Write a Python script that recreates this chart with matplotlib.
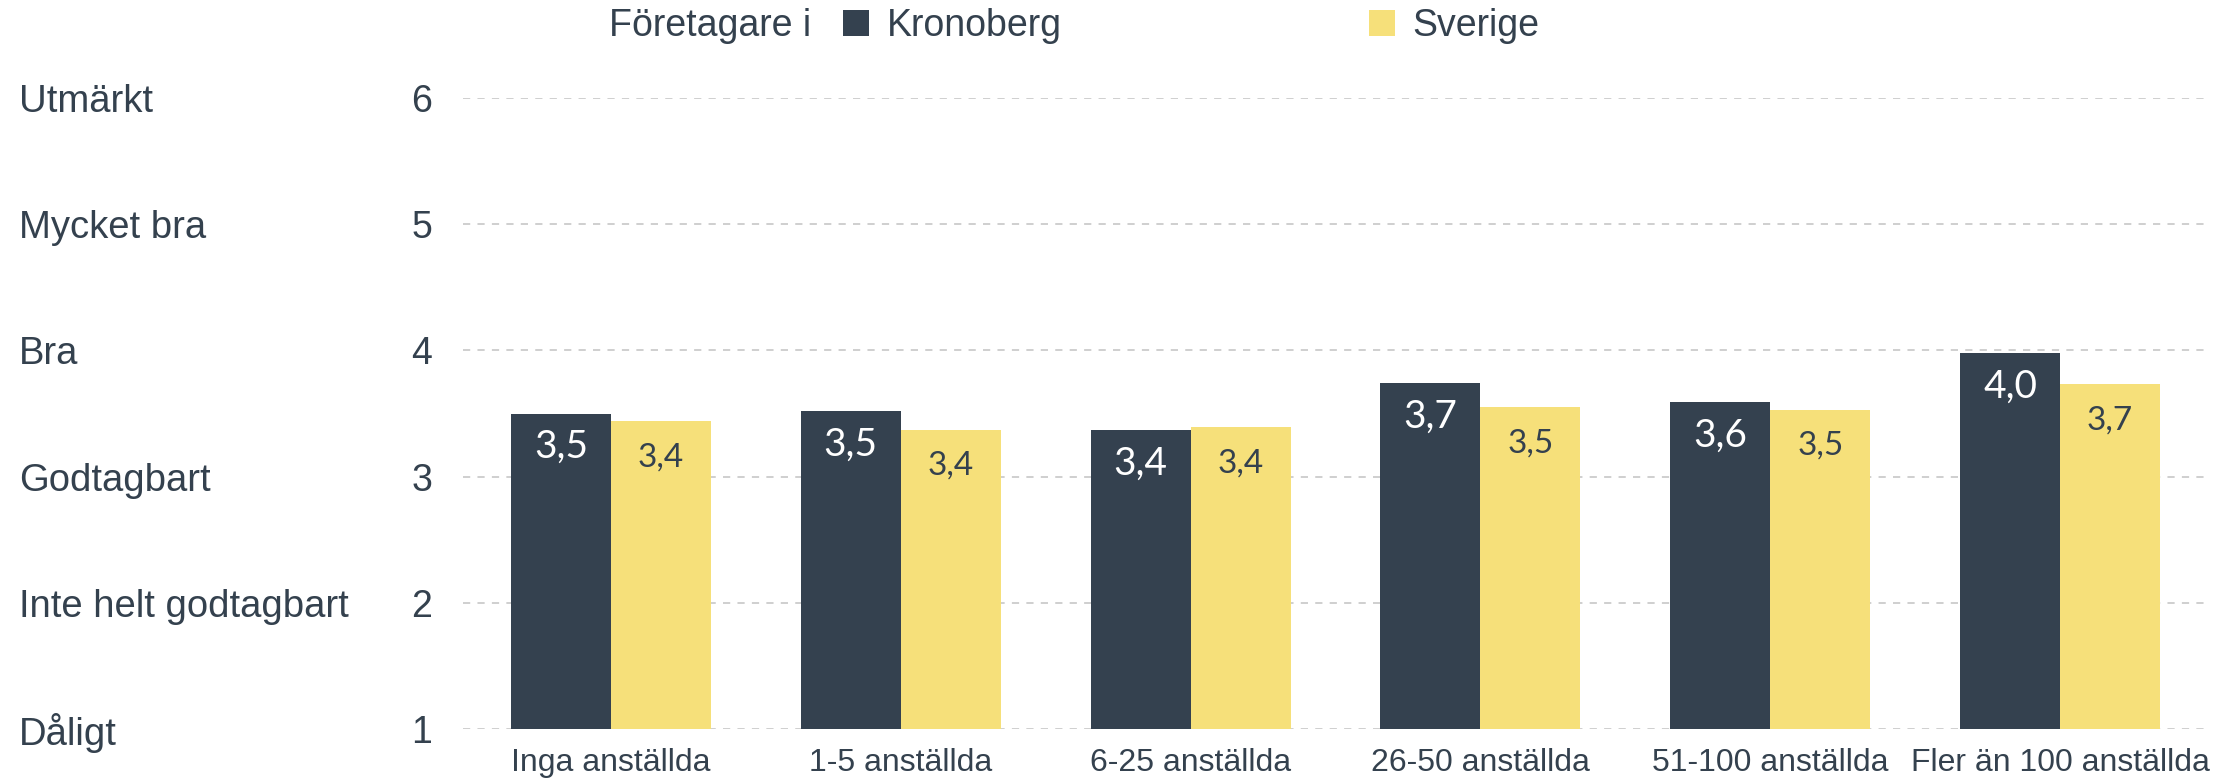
import numpy as np
import matplotlib
matplotlib.use("Agg")
import matplotlib.pyplot as plt

# data
kategorier = ["Inga anställda", "1-5 anställda", "6-25 anställda",
              "26-50 anställda", "51-100 anställda", "Fler än 100 anställda"]
kronoberg = [3.50, 3.52, 3.37, 3.74, 3.59, 3.98]
sverige = [3.44, 3.37, 3.39, 3.55, 3.53, 3.73]
skala_varden = [1, 2, 3, 4, 5, 6]
skala_namn = ["Dåligt", "Inte helt godtagbart", "Godtagbart", "Bra",
              "Mycket bra", "Utmärkt"]

mork = "#34414f"
gul = "#f6e07a"
textfarg = "#34414e"

fig = plt.figure(figsize=(22.36, 7.83), dpi=100)
ax = fig.add_axes([463/2236, 1-729/783, (2205-463)/2236, (729-98)/783])

x = np.arange(len(kategorier))
b = 0.345
s1 = ax.bar(x - b/2, kronoberg, b, bottom=0, color=mork, label="Kronoberg", zorder=2)
s2 = ax.bar(x + b/2, sverige, b, bottom=0, color=gul, label="Sverige", zorder=2)

# värden inne i staplarna
for i in range(len(x)):
    ax.annotate(f"{kronoberg[i]:.1f}".replace(".", ","), (x[i] - b/2, kronoberg[i]),
                xytext=(0, -24), textcoords="offset points", ha="center", va="center",
                color="white", fontsize=28, family="Lato", zorder=3)
    ax.annotate(f"{sverige[i]:.1f}".replace(".", ","), (x[i] + b/2, sverige[i]),
                xytext=(0, -26), textcoords="offset points", ha="center", va="center",
                color=textfarg, fontsize=24, family="Lato", zorder=3)

ax.set_ylim(1, 6)
ax.set_xlim(-0.51, 5.5)
ax.set_yticks(skala_varden)
ax.set_yticklabels([str(v) for v in skala_varden], fontsize=27, color=textfarg,
                   family="Liberation Sans")
ax.set_xticks(x)
ax.set_xticklabels(kategorier, fontsize=23, color=textfarg, family="Liberation Sans")
ax.tick_params(axis="y", length=0, pad=22)
ax.tick_params(axis="x", length=0, pad=14)
for sp in ax.spines.values():
    sp.set_visible(False)
ax.yaxis.grid(True, color="#cccccc", linestyle=(0, (4, 4)), linewidth=1.3, zorder=0)
ax.set_axisbelow(True)

# betygsnamn till vänster
for v, n in zip(skala_varden, skala_namn):
    ax.text(-0.255, v, n, transform=ax.get_yaxis_transform(), ha="left",
            va="center_baseline", fontsize=27.5, color=textfarg,
            family="Liberation Sans", clip_on=False)

# legend överst
fig.text(609/2236, 1-26/783, "Företagare i", ha="left", va="center",
         fontsize=27, color=textfarg, family="Liberation Sans")
leg = ax.legend(handles=[s1, s2], loc="center left", bbox_to_anchor=(843/2236, 1-26/783),
                bbox_transform=fig.transFigure, ncol=2, frameon=False, borderpad=0,
                borderaxespad=0, handlelength=0.7, handleheight=0.7, handletextpad=0.46,
                columnspacing=8.2, prop={"family": "Liberation Sans", "size": 27})
for t in leg.get_texts():
    t.set_color(textfarg)

fig.savefig("out.png", dpi=100)
